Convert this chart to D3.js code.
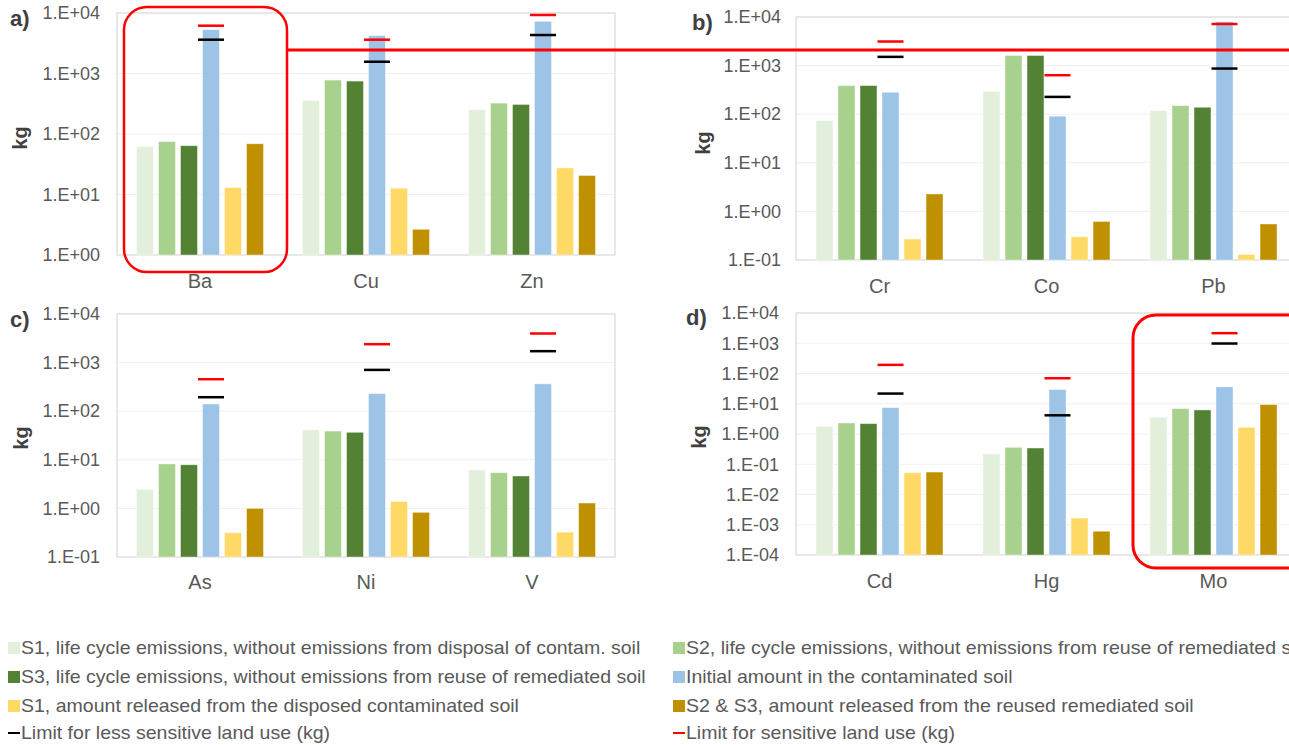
<!DOCTYPE html>
<html>
<head>
<meta charset="UTF-8">
<script src="https://cdn.jsdelivr.net/npm/d3@7"></script>
<style>
  body { margin: 0; background: #fff; }
  svg { display: block; font-family: "Liberation Sans", Arial, sans-serif; }
</style>
</head>
<body>
<svg id="chart" width="1289" height="745"></svg>
<script>
// series shown as bars, in drawing order
const seriesNames = [
  "S1, life cycle emissions, without emissions from disposal of contam. soil",
  "S2, life cycle emissions, without emissions from reuse of remediated soil",
  "S3, life cycle emissions, without emissions from reuse of remediated soil",
  "Initial amount in the contaminated soil",
  "S1, amount released from the disposed contaminated soil",
  "S2 & S3, amount released from the reused remediated soil"
];
const seriesColors = ["#E2EFDA", "#A9D18E", "#548235", "#9DC3E6", "#FFD966", "#BF9000"];
const limitNames = ["Limit for less sensitive land use (kg)", "Limit for sensitive land use (kg)"];

// a)
const elementsA = ["Ba", "Cu", "Zn"];
const barsA = [
  [62, 75, 64, 5300, 13, 69],
  [358, 778, 749, 4220, 12.7, 2.66],
  [251, 324, 308, 7280, 27.5, 20.6]
];
const limitsLessA = [3620, 1565, 4325];
const limitsSensA = [6170, 3620, 9270];
const ticksA = [1, 10, 100, 1000, 10000];

// b)
const elementsB = ["Cr", "Co", "Pb"];
const barsB = [
  [74, 388, 388, 283, 0.27, 2.28],
  [292, 1612, 1612, 91, 0.30, 0.62],
  [119, 150, 139, 8000, 0.13, 0.55]
];
const limitsLessB = [1513, 227, 870];
const limitsSensB = [3130, 634, 7180];
const ticksB = [0.1, 1, 10, 100, 1000, 10000];

// c)
const elementsC = ["As", "Ni", "V"];
const barsC = [
  [2.46, 8.2, 7.9, 141, 0.315, 1.0],
  [41, 39, 36.8, 230, 1.39, 0.83],
  [6.17, 5.43, 4.64, 365, 0.325, 1.29]
];
const limitsLessC = [194, 708, 1718];
const limitsSensC = [455, 2393, 3970];
const ticksC = [0.1, 1, 10, 100, 1000, 10000];

// d)
const elementsD = ["Cd", "Hg", "Mo"];
const barsD = [
  [1.79, 2.31, 2.2, 7.45, 0.0524, 0.0552],
  [0.218, 0.362, 0.344, 29.4, 0.00166, 0.00061],
  [3.56, 6.9, 6.24, 36, 1.66, 9.36]
];
const limitsLessD = [21.7, 4.15, 980];
const limitsSensD = [193, 69.7, 2153];
const ticksD = [0.0001, 0.001, 0.01, 0.1, 1, 10, 100, 1000, 10000];

const svg = d3.select("#chart");
const textGrey = "#595959";

function sci(d) {
  const e = Math.round(Math.log10(d));
  return "1.E" + (e < 0 ? "-" : "+") + String(Math.abs(e)).padStart(2, "0");
}

function drawPanel(p) {
  const y = d3.scaleLog().domain([p.ticks[0], p.ticks[p.ticks.length - 1]]).range([p.bottom, p.top]);
  const x = d3.scaleBand().domain(p.elements).range([p.left, p.right]);
  const xi = d3.scaleBand().domain(d3.range(6)).range([-63.5, 63.5]).paddingInner(0.23);

  const g = svg.append("g");

  // grid
  g.selectAll(".grid").data(p.ticks.slice(1, -1)).enter().append("line")
    .attr("x1", p.left).attr("x2", p.right)
    .attr("y1", d => y(d)).attr("y2", d => y(d))
    .attr("stroke", "#F0F0F0").attr("stroke-width", 1);
  g.append("rect")
    .attr("x", p.left).attr("y", p.top)
    .attr("width", p.right - p.left).attr("height", p.bottom - p.top)
    .attr("fill", "none").attr("stroke", "#D9D9D9").attr("stroke-width", 1.2);

  // bars
  p.elements.forEach((el, ci) => {
    const cx = x(el) + x.bandwidth() / 2;
    g.selectAll(null).data(p.bars[ci]).enter().append("rect")
      .attr("x", (d, i) => cx + xi(i))
      .attr("width", xi.bandwidth())
      .attr("y", d => y(d))
      .attr("height", d => p.bottom - y(d))
      .attr("fill", (d, i) => seriesColors[i])
      .attr("stroke", "#fff").attr("stroke-opacity", 0.5).attr("stroke-width", 0.8);

    const bx = cx + xi(3) + xi.bandwidth() / 2;
    [[p.limLess[ci], "#000"], [p.limSens[ci], "#FF0000"]].forEach(([v, c]) => {
      g.append("line")
        .attr("x1", bx - 13).attr("x2", bx + 13)
        .attr("y1", y(v)).attr("y2", y(v))
        .attr("stroke", c).attr("stroke-width", 2.5);
    });
  });

  // y axis labels
  const ya = g.append("g").attr("transform", `translate(${p.tickX},0)`)
    .call(d3.axisLeft(y).tickValues(p.ticks).tickFormat(sci).tickSize(0).tickPadding(0));
  ya.select(".domain").remove();
  ya.selectAll("text").attr("font-size", 18).attr("fill", textGrey)
    .attr("font-family", "Liberation Sans, Arial, sans-serif");

  // category labels
  const xa = g.append("g").attr("transform", `translate(0,${p.bottom})`)
    .call(d3.axisBottom(x).tickSize(0));
  xa.select(".domain").remove();
  xa.selectAll("text").attr("y", p.catBase - p.bottom).attr("dy", 0)
    .attr("font-size", 20).attr("fill", textGrey)
    .attr("font-family", "Liberation Sans, Arial, sans-serif");

  g.append("text").attr("x", p.tag[0]).attr("y", p.tag[1])
    .attr("font-size", 22).attr("font-weight", "bold").attr("fill", "#404040").text(p.tagText);
  g.append("text")
    .attr("transform", `translate(${p.kg[0]},${p.kg[1]}) rotate(-90)`)
    .attr("text-anchor", "middle").attr("dy", "0.35em")
    .attr("font-size", 20).attr("font-weight", "bold").attr("fill", "#404040").text("kg");
}

drawPanel({ elements: elementsA, bars: barsA, limLess: limitsLessA, limSens: limitsSensA, ticks: ticksA,
  left: 117, right: 615, top: 13, bottom: 255, tickX: 100, catBase: 288, tag: [10, 26], tagText: "a)", kg: [20, 138] });
drawPanel({ elements: elementsB, bars: barsB, limLess: limitsLessB, limSens: limitsSensB, ticks: ticksB,
  left: 796, right: 1297, top: 17, bottom: 260, tickX: 781, catBase: 293, tag: [692, 30], tagText: "b)", kg: [703, 143] });
drawPanel({ elements: elementsC, bars: barsC, limLess: limitsLessC, limSens: limitsSensC, ticks: ticksC,
  left: 117, right: 615, top: 314, bottom: 557, tickX: 100, catBase: 589, tag: [10, 327], tagText: "c)", kg: [21, 438] });
drawPanel({ elements: elementsD, bars: barsD, limLess: limitsLessD, limSens: limitsSensD, ticks: ticksD,
  left: 796, right: 1297, top: 313, bottom: 555, tickX: 779, catBase: 588, tag: [686, 325], tagText: "d)", kg: [699, 437] });

// red highlight annotations
svg.append("rect").attr("x", 124).attr("y", 7).attr("width", 163).attr("height", 265)
  .attr("rx", 23).attr("fill", "none").attr("stroke", "#FF0000").attr("stroke-width", 2.5);
svg.append("line").attr("x1", 287).attr("x2", 1289).attr("y1", 50).attr("y2", 50)
  .attr("stroke", "#FF0000").attr("stroke-width", 3);
svg.append("rect").attr("x", 1133).attr("y", 315).attr("width", 200).attr("height", 253)
  .attr("rx", 23).attr("fill", "none").attr("stroke", "#FF0000").attr("stroke-width", 3);

// legend (text a bit wider than plain Arial, like the source image)
const legendItems = seriesNames.map((n, i) => ({ name: n, color: seriesColors[i], kind: "box" }))
  .concat([{ name: limitNames[0], color: "#000", kind: "line" }, { name: limitNames[1], color: "#FF0000", kind: "line" }]);
const legendCols = [8, 673];
const legendRows = [648, 677, 706, 733];
const lg = svg.append("g");
legendItems.forEach((it, i) => {
  const lx = legendCols[i % 2], ly = legendRows[Math.floor(i / 2)];
  if (it.kind === "box") {
    lg.append("rect").attr("x", lx).attr("y", ly - 6).attr("width", 12).attr("height", 12).attr("fill", it.color);
  } else {
    lg.append("line").attr("x1", lx).attr("x2", lx + 12).attr("y1", ly).attr("y2", ly)
      .attr("stroke", it.color).attr("stroke-width", 2);
  }
  lg.append("text").attr("transform", `translate(${lx + 13},${ly}) scale(1.085,1)`)
    .attr("dy", "0.35em")
    .attr("font-size", 18).attr("fill", textGrey).text(it.name);
});
</script>
</body>
</html>
